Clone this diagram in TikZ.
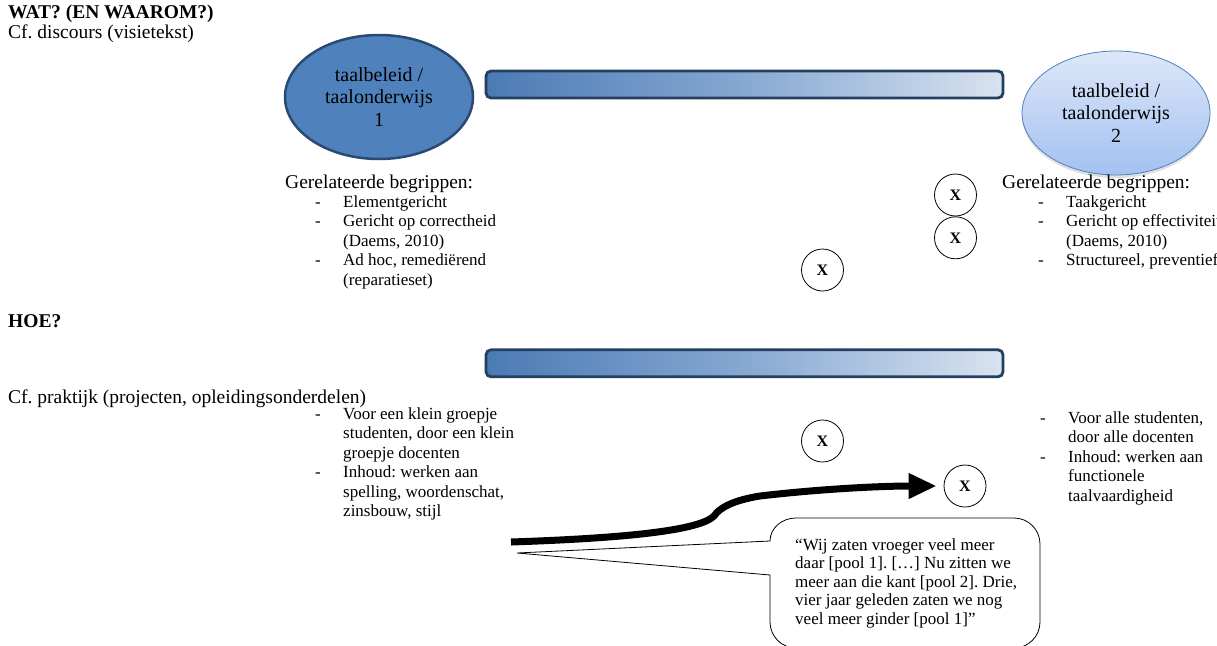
\documentclass[tikz,border=0pt]{standalone}
\usepackage{fontspec}
\setmainfont{Liberation Serif}
\usepackage{xcolor}
\usepackage{tikz}
\usetikzlibrary{arrows.meta,positioning,shapes.geometric,shadows}
\definecolor{pooldark}{HTML}{4F81BD}
\definecolor{poolrim}{HTML}{2A4A73}
\definecolor{poolpale}{HTML}{DDE7F8}
\definecolor{poolsky}{HTML}{A3C1F1}
\definecolor{barrim}{HTML}{243F60}
\definecolor{barend}{HTML}{D9E3F0}
\newcommand{\hfont}{\fontsize{19.5}{22}\selectfont}
\newcommand{\lfont}{\fontsize{17}{19.5}\selectfont}
\newcommand{\rows}[1]{\begin{tabular}[t]{@{}p{28pt}@{}l@{}}#1\end{tabular}}
\frenchspacing
\tikzset{
  pool/.style  ={ellipse,minimum width=188pt,minimum height=124pt,inner sep=0pt,
                 align=center,font=\fontsize{20}{22.5}\selectfont},
  axisbar/.style={rectangle,rounded corners=5pt,draw=barrim,line width=2.8pt,
                 minimum width=517pt,minimum height=27pt,inner sep=0pt,
                 left color=pooldark!95!black,right color=barend,
                 middle color=pooldark!60!barend},
  cross/.style ={circle,draw,line width=0.8pt,minimum size=42pt,inner sep=0pt,
                 font=\bfseries\fontsize{16}{16}\selectfont},
  heading/.style={anchor=base west,inner sep=0pt,font=\hfont},
  items/.style ={anchor=base west,inner sep=0pt,font=\lfont},
  swing/.style ={line width=7pt,-{Triangle[length=28pt,width=24pt]}}
}
\begin{document}
\begin{tikzpicture}[x=1pt,y=-1pt]
  \path[fill=white,use as bounding box] (0,0) rectangle (1217,645);
  \clip (0,0) rectangle (1217,645);

  % what and why
  \node[heading,font=\hfont\bfseries] (wat) at (8,18) {WAT? (EN WAAROM?)};
  \node[heading] (discours) at (8,38) {Cf. discours (visietekst)};

  \node[pool,fill=pooldark,draw=poolrim,line width=2.5pt] (pool1) at (379,97)
    {taalbeleid /\\taalonderwijs\\1};
  \node[pool,top color=poolpale,bottom color=poolsky,draw=pooldark,line width=0.8pt,
        drop shadow={shadow xshift=0pt,shadow yshift=-3pt,opacity=0.25}] (pool2)
    at (1116,113) {taalbeleid /\\taalonderwijs\\2};
  \node[axisbar] (bar1) at (744.5,84.5) {};

  \node[heading] (rel1) at (285,188) {Gerelateerde begrippen:};
  \node[items] (list1) at (315,207) {\rows{
    - & Elementgericht\\
    - & Gericht op correctheid\\
      & (Daems, 2010)\\
    - & Ad hoc, remedi\"erend\\
      & (reparatieset)}};
  \node[heading] (rel2) at (1002,188) {Gerelateerde begrippen:};
  \node[items] (list2) at (1038,207) {\rows{
    - & Taakgericht\\
    - & Gericht op effectiviteit\\
      & (Daems, 2010)\\
    - & Structureel, preventief}};

  \node[cross] (xa) at (955.5,195) {X};
  \node[cross,below=0pt of xa] (xb) {X};
  \node[cross] (xc) at (822.5,270) {X};

  % how
  \node[heading,font=\hfont\bfseries] (hoe) at (8,327) {HOE?};
  \node[axisbar,below=249pt of bar1] (bar2) {};
  \node[heading] (praktijk) at (8,403) {Cf. praktijk (projecten, opleidingsonderdelen)};

  \node[items] (list3) at (315,419) {\rows{
    - & Voor een klein groepje\\
      & studenten, door een klein\\
      & groepje docenten\\
    - & Inhoud: werken aan\\
      & spelling, woordenschat,\\
      & zinsbouw, stijl}};
  \node[items] (list4) at (1040,423) {\rows{
    - & Voor alle studenten,\\
      & door alle docenten\\
    - & Inhoud: werken aan\\
      & functionele\\
      & taalvaardigheid}};

  \node[cross] (xd) at (822.5,441) {X};
  \node[cross] (xe) at (965,486) {X};

  % the shift from pool 1 towards pool 2
  \coordinate (start) at (511,542);
  \draw[swing] (start) .. controls (630,538) and (700,530) .. (714,516)
    .. controls (720,507) and (735,500) .. (760,496)
    .. controls (820,489) and (880,486) .. ([xshift=-7pt]xe.west);

  % quote balloon
  \coordinate (beak) at (517,553);
  \draw[line width=0.8pt,fill=white] (beak) -- (770,541)
    arc[start angle=180,end angle=90,x radius=26pt,y radius=23pt] -- (1014,518)
    arc[start angle=90,end angle=0,radius=26pt] -- (1040,622)
    arc[start angle=0,end angle=-90,radius=26pt] -- (796,648)
    arc[start angle=270,end angle=180,radius=26pt] -- (770,575) -- cycle;
  \node[anchor=base west,inner sep=0pt,font=\fontsize{17}{18.6}\selectfont] (quote)
    at (795,550) {\begin{tabular}[t]{@{}l@{}}
      “Wij zaten vroeger veel meer\\
      daar [pool 1]. […] Nu zitten we\\
      meer aan die kant [pool 2]. Drie,\\
      vier jaar geleden zaten we nog\\
      veel meer ginder [pool 1]”\end{tabular}};
\end{tikzpicture}
\end{document}
